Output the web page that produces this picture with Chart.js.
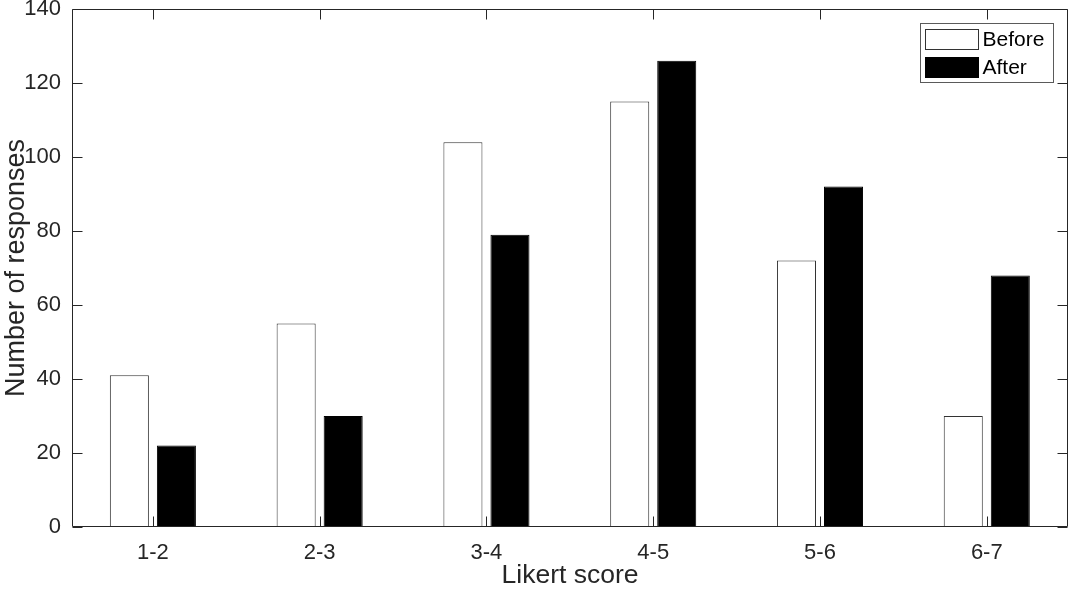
<!DOCTYPE html>
<html>
<head>
<meta charset="utf-8">
<script src="https://cdn.jsdelivr.net/npm/chart.js@4"></script>
<style>
  html, body { margin: 0; padding: 0; background: #fff; }
  #wrap { width: 1068px; height: 589px; }
</style>
</head>
<body>
<div id="wrap"><canvas id="chart" width="1068" height="589"></canvas></div>
<script>
// chart data
const categories = ['1-2', '2-3', '3-4', '4-5', '5-6', '6-7'];
const beforeValues = [41, 55, 104, 115, 72, 30];
const afterValues = [22, 30, 79, 126, 92, 68];
const yTicks = [0, 20, 40, 60, 80, 100, 120, 140];

const FONT = "'Liberation Sans', Arial, Helvetica, sans-serif";
const INK = '#262626';

// box, inward ticks and legend, matlab style
const boxPlugin = {
    id: 'box',
    afterDraw(chart) {
        const ctx = chart.ctx;
        const a = chart.chartArea;
        const xs = chart.scales.x;
        const ys = chart.scales.y;
        const L = Math.round(a.left) + 0.5, R = Math.round(a.right) - 0.5;
        const T = Math.round(a.top) + 0.5, B = Math.round(a.bottom) - 0.5;
        ctx.save();
        ctx.strokeStyle = INK;
        ctx.lineWidth = 1;
        ctx.beginPath();
        ctx.rect(L, T, R - L, B - T);
        yTicks.forEach(v => {
            const y = Math.round(ys.getPixelForValue(v)) + 0.5;
            ctx.moveTo(L, y); ctx.lineTo(L + 10, y);
            ctx.moveTo(R, y); ctx.lineTo(R - 10, y);
        });
        categories.forEach((c, i) => {
            const x = Math.round(xs.getPixelForValue(i + 1)) + 0.5;
            ctx.moveTo(x, B); ctx.lineTo(x, B - 10);
            ctx.moveTo(x, T); ctx.lineTo(x, T + 10);
        });
        ctx.stroke();

        // legend
        const lx = 920.5, ly = 23.5, lw = 133, lh = 59;
        ctx.fillStyle = '#fff';
        ctx.fillRect(lx, ly, lw, lh);
        ctx.strokeStyle = '#5a5a5a';
        ctx.strokeRect(lx, ly, lw, lh);
        ctx.font = '21px ' + FONT;
        ctx.textBaseline = 'middle';
        ctx.textAlign = 'left';
        chart.data.datasets.forEach((ds, i) => {
            const sy = ly + 6 + i * 28;
            ctx.fillStyle = ds.backgroundColor;
            ctx.fillRect(lx + 5, sy, 53, 20);
            ctx.strokeStyle = ds.borderColor;
            ctx.strokeRect(lx + 5, sy, 53, 20);
            ctx.fillStyle = '#000';
            ctx.fillText(ds.label, lx + 62, sy + 11);
        });
        ctx.restore();
    }
};

const ctx = document.getElementById('chart').getContext('2d');

new Chart(ctx, {
    type: 'bar',
    data: {
        datasets: [
            {
                label: 'Before',
                data: beforeValues.map((v, i) => ({ x: i + 1, y: v })),
                backgroundColor: '#ffffff',
                borderColor: '#333333',
                borderWidth: 1,
            },
            {
                label: 'After',
                data: afterValues.map((v, i) => ({ x: i + 1, y: v })),
                backgroundColor: '#000000',
                borderColor: '#000000',
                borderWidth: 1,
            },
        ],
    },
    options: {
        responsive: false,
        animation: false,
        categoryPercentage: 0.564,
        barPercentage: 0.83,
        layout: { padding: { left: 0, right: 0, top: 9, bottom: 0 } },
        plugins: {
            legend: { display: false },
            tooltip: { enabled: false },
        },
        scales: {
            x: {
                type: 'linear',
                offset: false,
                min: 0.515,
                max: 6.487,
                grid: { display: false, drawTicks: false, offset: false },
                border: { display: false },
                ticks: {
                    stepSize: 1,
                    includeBounds: false,
                    autoSkip: false,
                    maxRotation: 0,
                    padding: 13,
                    color: INK,
                    font: { family: FONT, size: 22 },
                    callback: v => categories[v - 1] || '',
                },
                title: {
                    display: true,
                    text: 'Likert score',
                    color: INK,
                    font: { family: FONT, size: 26.5 },
                    padding: { top: 0, bottom: -3 },
                },
                afterFit(scale) {
                    scale.height = 62;
                    scale.paddingLeft = 0;
                    scale.paddingRight = 0;
                },
            },
            y: {
                min: 0,
                max: 140,
                grid: { display: false, drawTicks: false },
                border: { display: false },
                ticks: {
                    stepSize: 20,
                    padding: 11,
                    color: INK,
                    font: { family: FONT, size: 22 },
                },
                title: {
                    display: true,
                    text: 'Number of responses',
                    color: INK,
                    font: { family: FONT, size: 27 },
                    padding: 0,
                },
                afterFit(scale) {
                    scale.width = 72;
                    scale.paddingTop = 0;
                    scale.paddingBottom = 0;
                },
            },
        },
    },
    plugins: [boxPlugin],
});
</script>
</body>
</html>
